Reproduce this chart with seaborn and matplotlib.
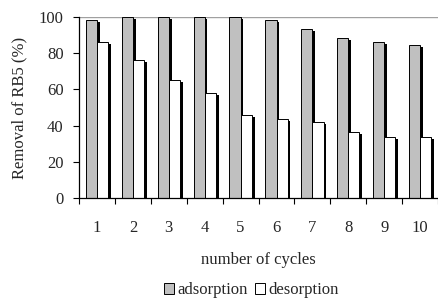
import numpy as np
import pandas as pd
import seaborn as sns
import matplotlib
matplotlib.use('Agg')
import matplotlib.pyplot as plt
import matplotlib.patheffects as pe
from matplotlib.patches import Patch
from matplotlib.ticker import FixedLocator

# values
cycles = ['1', '2', '3', '4', '5', '6', '7', '8', '9', '10']
adsorption = [98.5, 100, 100, 100, 100, 98.5, 93.4, 88.2, 86.0, 84.7]
desorption = [86.0, 76.2, 65.2, 58.2, 45.9, 43.5, 42.2, 36.3, 33.5, 33.5]

df = pd.DataFrame({
    'cycle': cycles * 2,
    'removal': adsorption + desorption,
    'kind': ['adsorption'] * len(cycles) + ['desorption'] * len(cycles),
})
colors = {'adsorption': '#c0c0c0', 'desorption': 'white'}

sns.set_style('white')
plt.rcParams['font.family'] = ['Liberation Serif', 'DejaVu Serif']

fig = plt.figure(figsize=(4.39, 3.0), dpi=100)
ax = fig.add_axes([0.18, 0.34, 0.818, 0.603])

sns.barplot(data=df, x='cycle', y='removal', hue='kind', order=cycles,
            palette=colors, width=0.62, edgecolor='black', linewidth=0.7,
            ax=ax, legend=False)

# little 3d shadow on the bars
for p in ax.patches:
    p.set_path_effects([pe.SimplePatchShadow(offset=(2.0, -1.4), shadow_rgbFace='black', alpha=1.0), pe.Normal()])

ax.set_ylim(0, 100)
ax.set_xlim(-0.5, len(cycles) - 0.5)
ax.set_yticks([0, 20, 40, 60, 80, 100])
ax.axhline(100, color='#a0a0a0', lw=1.0, zorder=0)

for s in ['top', 'right']:
    ax.spines[s].set_visible(False)
for s in ['left', 'bottom']:
    ax.spines[s].set_color('black')
    ax.spines[s].set_linewidth(0.9)

ax.tick_params(axis='y', direction='out', length=4, width=0.8, color='black', labelsize=12, pad=7, left=True)
ax.tick_params(axis='x', which='major', length=0, labelsize=12, pad=16)
ax.xaxis.set_minor_locator(FixedLocator(np.arange(-0.5, len(cycles), 1.0)))
ax.tick_params(axis='x', which='minor', direction='out', length=4, width=0.8, color='black', bottom=True)

ax.set_xlabel('number of cycles', fontsize=12, labelpad=11)
ax.set_ylabel('Removal of RB5 (%)', fontsize=12, labelpad=8)

handles = [Patch(facecolor=colors[k], edgecolor='black', linewidth=0.7) for k in colors]
ax.legend(handles, list(colors), loc='upper center', bbox_to_anchor=(0.48, -0.465), ncol=2,
          frameon=False, fontsize=12, handlelength=0.6, handleheight=0.6,
          handletextpad=0.2, columnspacing=0.4, borderaxespad=0, borderpad=0)

fig.savefig('out.png', dpi=100)
